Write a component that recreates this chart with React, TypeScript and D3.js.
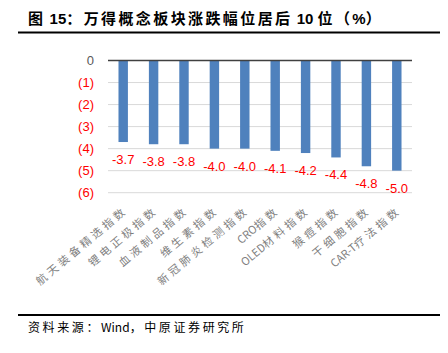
import { useEffect, useRef } from 'react';
import * as d3 from 'd3';

const W = 448;
const H = 353;
const [mt, mr, ml] = [60.5, 36, 108];
const plotW = W - ml - mr;
const plotH = 132.2;

const categories = ['航天装备精选指数', '锂电正极指数', '血液制品指数', '维生素指数', '新冠肺炎检测指数', 'CRO指数', 'OLED材料指数', '猴痘指数', '干细胞指数', 'CAR-T疗法指数'];
const values = [-3.7, -3.8, -3.8, -4.0, -4.0, -4.1, -4.2, -4.4, -4.8, -5.0];
const yTicks = [0, -1, -2, -3, -4, -5, -6];
const yTickLabels = ['0', '(1)', '(2)', '(3)', '(4)', '(5)', '(6)'];

const cjk = '"Noto Sans CJK SC", "Noto Sans", sans-serif';
const latin = 'Arial, "Liberation Sans", "Noto Sans CJK SC", sans-serif';

// 中文字间距加宽，西文保持紧凑
function spaced(sel: d3.Selection<SVGTextElement, any, any, any>, str: string, gap: number) {
    const runs = str.match(/[A-Za-z0-9\-.% ]+|[^A-Za-z0-9\-.% ]+/g) || [];
    runs.forEach((r) => {
        const isLatin = /^[A-Za-z0-9\-.% ]+$/.test(r);
        sel.append('tspan').attr('letter-spacing', isLatin ? 0 : gap).text(r);
    });
}

export default function App() {
    const ref = useRef<SVGSVGElement>(null);

    useEffect(() => {
        const svg = d3.select(ref.current);
        svg.selectAll('*').remove();

        // 标题
        const title = svg.append('text')
            .attr('x', 28)
            .attr('y', 24)
            .attr('font-family', latin)
            .attr('font-weight', 'bold')
            .attr('font-size', 15)
            .attr('fill', '#000');
        spaced(title, '图 15：万得概念板块涨跌幅位居后 10 位（%）', 2.4);
        svg.append('line').attr('x1', 18).attr('x2', 440).attr('y1', 32.5).attr('y2', 32.5).attr('stroke', '#000').attr('stroke-width', 2);

        const x = d3.scaleBand().domain(categories).range([0, plotW]).paddingInner(0.69).paddingOuter(0.345);
        const y = d3.scaleLinear().domain([0, -6]).range([0, plotH]);

        const g = svg.append('g').attr('transform', `translate(${ml}, ${mt})`);

        // 网格线
        g.selectAll('line.grid')
            .data(yTicks.slice(1))
            .enter()
            .append('line')
            .attr('x1', 0)
            .attr('x2', plotW)
            .attr('y1', (d) => y(d))
            .attr('y2', (d) => y(d))
            .attr('stroke', '#d9d9d9')
            .attr('stroke-width', 1);

        // Y轴标签
        g.selectAll('text.ytick')
            .data(yTicks)
            .enter()
            .append('text')
            .attr('x', -14)
            .attr('y', (d) => y(d))
            .attr('dy', '0.35em')
            .attr('text-anchor', 'end')
            .attr('font-family', latin)
            .attr('font-size', 13)
            .attr('fill', (d) => (d === 0 ? '#595959' : '#ff0000'))
            .text((_d, i) => yTickLabels[i]);

        // 柱子
        g.selectAll('rect')
            .data(values)
            .enter()
            .append('rect')
            .attr('x', (_d, i) => x(categories[i])!)
            .attr('y', y(0))
            .attr('width', x.bandwidth())
            .attr('height', (d) => y(d) - y(0))
            .attr('fill', '#4f81bd');

        // 零线
        g.append('line').attr('x1', 0).attr('x2', plotW).attr('y1', y(0)).attr('y2', y(0)).attr('stroke', '#404040').attr('stroke-width', 1.5);

        // 数值标签
        g.selectAll('text.val')
            .data(values)
            .enter()
            .append('text')
            .attr('x', (_d, i) => x(categories[i])! + x.bandwidth() / 2)
            .attr('y', (d) => y(d) + 22)
            .attr('text-anchor', 'middle')
            .attr('font-family', latin)
            .attr('font-size', 13)
            .attr('fill', '#ff0000')
            .text((d) => d.toFixed(1));

        // X轴标签（斜排）
        g.selectAll('text.xtick')
            .data(categories)
            .enter()
            .append('text')
            .attr('transform', (d) => `translate(${x(d)! + x.bandwidth() / 2 + 5}, ${plotH + 19}) rotate(-40)`)
            .attr('text-anchor', 'end')
            .attr('font-family', cjk)
            .attr('font-size', 11)
            .attr('fill', '#7f7f7f')
            .each(function (d) {
                spaced(d3.select(this as SVGTextElement), d, 3.4);
            });

        // 底部来源
        svg.append('line').attr('x1', 18).attr('x2', 440).attr('y1', 315).attr('y2', 315).attr('stroke', '#000').attr('stroke-width', 2);
        const src = svg.append('text')
            .attr('x', 28)
            .attr('y', 332)
            .attr('font-family', cjk)
            .attr('font-size', 12)
            .attr('fill', '#000');
        spaced(src, '资料来源：Wind，中原证券研究所', 2.6);
    }, []);

    return (
        <div style={{ position: 'fixed', left: 0, top: 0, background: '#fff' }}>
            <svg ref={ref} width={W} height={H} />
        </div>
    );
}
